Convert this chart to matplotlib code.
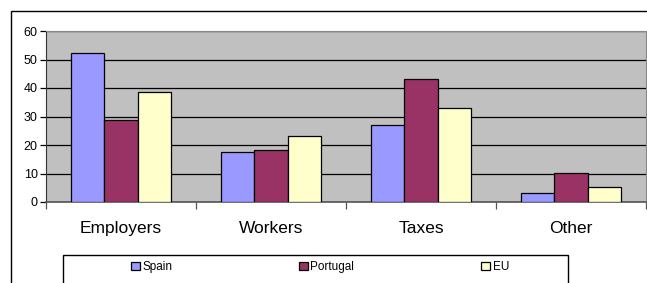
import numpy as np
import matplotlib.pyplot as plt
from matplotlib.patches import Rectangle

plt.rcParams["font.family"] = ["Liberation Sans", "DejaVu Sans"]

categories = ["Employers", "Workers", "Taxes", "Other"]
series = ["Spain", "Portugal", "EU"]
spain = [52.2, 17.5, 27.0, 3.3]
portugal = [28.6, 18.1, 43.3, 10.2]
eu = [38.5, 23.3, 32.9, 5.1]
yticks = [0, 10, 20, 30, 40, 50, 60]

colors = ["#9999FF", "#993366", "#FFFFCC"]

W, H = 647, 283
fig = plt.figure(figsize=(W / 100, H / 100), dpi=100)

# outer chart frame (runs off the right and bottom edges)
fig.patches.append(Rectangle((11 / W, -0.2), 1.2, 1.2 - 11 / H,
                             transform=fig.transFigure, fill=False,
                             edgecolor="black", linewidth=1.0))

ax = fig.add_axes([46 / W, 1 - 202 / H, 600 / W, 171 / H])
ax.set_facecolor("#C0C0C0")

x = np.arange(len(categories))
w = 1 / 4.5
for i, (vals, c) in enumerate(zip([spain, portugal, eu], colors)):
    ax.bar(x + (i - 1) * w, vals, width=w, color=c, edgecolor="black",
           linewidth=0.9, label=series[i], zorder=3)

ax.set_xlim(-0.5, len(categories) - 0.5)
ax.set_ylim(0, 60)
ax.set_yticks(yticks)
ax.tick_params(axis="y", labelsize=9, length=4, width=0.9, pad=2, colors="black")
ax.yaxis.grid(True, color="black", linewidth=0.9, zorder=1)
ax.set_axisbelow(True)

ax.set_xticks(np.arange(-0.5, len(categories)), minor=False)
ax.set_xticklabels([])
ax.tick_params(axis="x", length=5, width=0.9, color="#555555")
ax.set_xticks(x, minor=True)
ax.set_xticklabels(categories, minor=True, fontsize=12.5)
ax.tick_params(axis="x", which="minor", length=0, pad=14)

for s in ["top", "right"]:
    ax.spines[s].set_color("#888888")
    ax.spines[s].set_linewidth(0.8)
ax.spines["left"].set_color("#333333")
ax.spines["bottom"].set_color("#555555")
ax.spines["bottom"].set_linewidth(1.2)

# legend box (bottom edge falls outside the picture)
fig.patches.append(Rectangle((63 / W, -0.2), 505 / W, 0.2 + 1 - 255 / H,
                             transform=fig.transFigure, fill=False,
                             edgecolor="black", linewidth=1.0))
handles, labels = ax.get_legend_handles_labels()
fig.legend(handles, labels, loc="upper left", ncol=3, mode="expand",
           bbox_to_anchor=(131 / W, 1 - 261 / H, 378 / W, 0.0),
           frameon=False, fontsize=8.5, handlelength=0.75, handleheight=0.75,
           handletextpad=0.2, borderaxespad=0, borderpad=0)

fig.savefig("out.png", dpi=100)
